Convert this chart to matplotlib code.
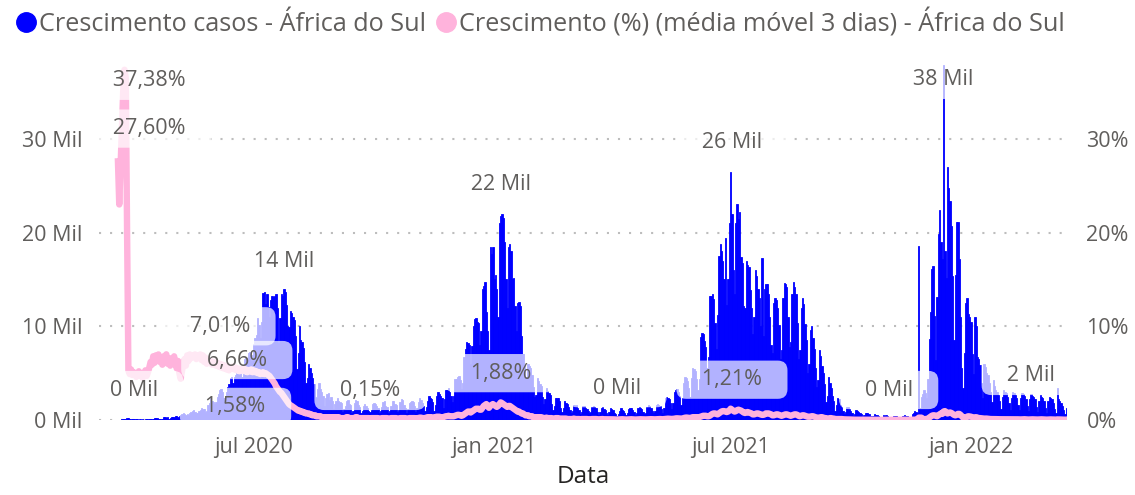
import numpy as np
import pandas as pd
import matplotlib
matplotlib.use('Agg')
import matplotlib.pyplot as plt
from matplotlib.lines import Line2D

plt.rcParams['font.family'] = ['Open Sans', 'DejaVu Sans']

# novos casos por dia (milhares), a partir de 05/03/2020 - uma linha por mes
casos_2020 = [
    0.001,0.001,0.001,0.001,0.002,0.004,0.006,0.003,0.007,0.014,0.013,0.024,0.011,0.031,0.034,0.05,0.04,0.07,0.13,0.15,0.15,0.22,0.24,0.1,0.08,0.1,0.09,
    0.14,0.09,0.08,0.05,0.08,0.05,0.09,0.04,0.1,0.07,0.09,0.14,0.1,0.14,0.09,0.17,0.18,0.25,0.11,0.12,0.14,0.16,0.32,0.27,0.17,0.27,0.15,0.22,0.35,0.35,
    0.3,0.39,0.45,0.32,0.38,0.55,0.65,0.7,0.6,0.55,0.6,0.57,0.75,0.9,0.95,1.1,0.83,0.7,0.77,1.0,1.1,1.3,1.2,1.2,0.9,1.0,1.6,1.8,2.3,2.0,1.9,
    1.7,1.9,2.5,2.8,3.2,3.3,3.0,2.3,2.4,3.0,3.5,3.8,4.5,4.6,4.0,4.6,4.8,5.0,5.2,5.4,5.0,4.6,5.2,6.5,6.6,6.2,7.2,7.3,6.3,6.9,
    8.1,8.7,9.1,10.9,10.1,8.8,10.5,13.6,13.7,12.4,13.5,12.1,11.0,12.8,13.2,13.1,13.2,13.4,12.0,8.2,10.9,13.5,13.2,14.0,13.7,12.3,10.0,9.9,11.6,11.4,11.0,
    10.7,9.0,5.4,7.1,10.0,8.5,8.3,7.7,6.2,3.9,4.5,6.0,5.6,5.0,4.5,3.8,2.5,2.3,3.3,3.9,3.3,3.0,2.6,1.5,2.3,2.8,2.9,2.1,2.5,2.0,1.2,
    1.7,2.0,2.4,2.0,1.9,1.8,0.9,1.2,1.5,2.0,2.1,1.7,1.6,0.7,1.0,1.8,2.1,2.0,1.6,1.4,0.8,1.0,1.5,1.7,1.5,1.3,1.0,0.9,1.1,1.7,
    1.8,1.7,1.5,1.3,0.8,1.0,1.4,1.9,2.0,1.5,1.4,0.7,1.0,1.5,2.0,2.0,1.7,1.6,0.9,1.1,1.9,2.2,2.1,1.6,1.3,0.8,1.2,1.8,1.9,2.0,1.9,
    1.5,0.9,1.3,1.9,2.4,2.1,1.8,1.5,1.0,1.4,2.0,2.6,2.4,2.2,1.9,1.0,1.6,2.6,3.0,2.8,2.6,2.3,1.3,2.2,3.2,3.2,3.4,3.0,2.6,1.9,
    2.6,4.4,4.4,4.6,4.7,4.3,3.3,4.0,6.7,7.6,8.3,8.2,8.0,6.0,7.9,10.0,10.8,10.9,10.5,10.4,8.0,9.5,14.0,14.3,14.7,11.5,9.5,7.5,18.5,17.7,18.5,
]
casos_2021 = [
    15.0,15.5,14.0,11.0,21.0,21.8,22.0,21.6,19.0,15.0,12.0,18.5,18.8,18.0,15.0,15.2,12.2,9.5,12.5,12.6,12.2,9.0,7.0,6.0,4.5,4.6,6.0,5.8,5.6,4.8,3.5,
    2.5,2.7,4.5,4.2,3.8,3.6,2.5,1.7,2.2,3.4,3.1,2.9,2.7,1.7,1.1,1.5,2.3,2.4,2.3,2.0,1.3,0.9,1.3,2.0,1.8,1.7,1.4,1.1,
    0.7,1.0,1.6,1.5,1.6,1.3,1.1,0.6,0.9,1.5,1.5,1.3,1.2,1.0,0.7,0.9,1.4,1.5,1.4,1.3,0.9,0.5,0.9,1.3,1.4,1.2,1.1,0.8,0.5,0.9,1.3,
    1.2,1.1,0.8,0.6,0.4,0.6,1.0,1.3,1.1,1.0,0.8,0.5,0.8,1.2,1.3,1.3,1.1,0.9,0.5,0.8,1.3,1.4,1.3,1.2,0.9,0.6,0.8,1.4,1.6,1.5,
    1.3,1.0,0.7,1.0,1.6,1.7,1.6,1.5,1.2,0.8,1.3,2.3,2.5,2.4,2.2,1.8,1.2,1.8,3.0,3.2,3.3,3.0,2.6,1.6,2.4,3.9,4.6,4.5,4.2,3.4,2.5,
    4.5,5.5,5.4,5.2,4.4,3.2,4.4,8.9,9.3,9.2,8.4,7.8,5.6,6.7,13.2,13.2,13.5,12.9,10.4,7.6,11.2,17.5,18.8,18.0,17.0,15.0,19.4,12.3,15.0,21.0,
    26.5,22.0,16.0,13.5,21.0,23.0,21.5,22.2,17.4,16.8,12.2,12.0,17.0,16.5,16.3,13.9,12.0,9.2,11.0,16.0,15.4,14.0,13.0,10.0,17.3,9.0,14.0,14.5,14.5,13.5,11.0,
    8.0,7.2,12.5,13.0,12.8,12.0,10.1,6.5,7.5,13.0,14.6,14.5,14.2,11.0,7.8,8.3,13.5,14.7,14.2,13.5,10.3,6.5,7.5,12.0,13.0,12.4,10.2,8.5,5.0,6.0,9.6,
    10.0,8.7,7.6,5.5,3.5,4.3,7.5,6.8,5.8,5.0,3.8,1.9,2.6,4.6,4.0,3.4,2.6,2.0,1.0,1.6,2.3,2.2,1.6,1.4,1.0,0.6,0.9,1.4,1.4,1.2,
    1.0,0.8,0.4,0.6,1.1,1.0,0.9,0.8,0.6,0.3,0.5,0.8,0.8,0.8,0.6,0.4,0.2,0.4,0.6,0.5,0.5,0.4,0.3,0.2,0.3,0.5,0.4,0.5,0.4,0.3,0.2,
    0.1,0.3,0.4,0.4,0.4,0.3,0.3,0.1,0.2,0.4,0.5,0.4,0.4,0.3,0.2,0.3,0.6,0.8,1.0,0.9,0.7,18.6,1.3,2.5,2.8,3.2,2.9,2.3,4.4,8.6,
    11.5,16.1,16.4,11.1,6.4,13.1,19.8,22.4,19.0,17.2,37.9,18.0,15.2,27.0,24.8,23.4,20.7,15.4,8.5,15.5,21.1,21.1,17.2,11.0,5.5,3.4,7.2,12.5,13.0,11.3,11.0,
]
casos_2022 = [
    10.5,7.0,4.9,11.0,10.0,6.7,6.5,5.9,4.0,2.4,6.0,5.7,5.0,4.8,4.0,3.0,1.9,4.3,3.6,3.2,3.0,2.7,2.0,1.2,2.5,3.2,3.0,2.9,2.5,1.8,1.1,
    2.4,3.0,2.9,2.7,2.3,1.6,1.1,2.3,2.9,2.8,2.6,2.2,1.5,1.0,2.2,2.8,2.6,2.5,2.2,1.4,0.9,2.0,2.7,2.5,2.3,2.0,1.3,0.8,
    2.0,2.5,2.3,2.2,1.8,1.2,0.7,3.4,2.2,2.0,1.8,1.5,1.1,0.6,1.3,
]

# crescimento (%) media movel 3 dias, mesmo calendario (None = sem valor)
cresc_2020 = [
    None,None,None,None,None,None,None,None,None,None,None,None,None,None,27.6,23.0,27.0,31.0,35.0,37.38,36.5,20.0,5.3,4.9,5.4,4.8,5.1,
    5.0,4.6,4.8,5.2,4.7,5.0,4.5,4.9,5.3,4.7,5.1,5.6,6.2,5.9,6.8,6.1,6.9,6.4,7.0,6.2,6.6,5.9,6.8,6.3,7.01,6.0,6.5,5.8,6.6,6.2,
    6.8,6.0,5.5,6.3,5.0,4.4,5.2,6.0,6.5,5.8,6.9,6.3,7.0,6.6,6.9,6.8,7.0,6.5,6.9,6.7,7.0,6.4,6.9,6.2,6.66,6.0,6.4,6.1,6.3,5.9,6.2,
    6.2,5.8,6.1,5.7,6.0,5.6,5.9,5.5,5.8,5.4,5.7,5.3,5.6,5.5,5.7,5.4,5.6,5.3,5.5,5.2,5.4,5.3,5.5,5.2,5.4,5.1,5.3,5.2,5.4,5.1,
    5.3,5.1,5.2,5.0,5.1,4.9,5.0,5.1,4.9,5.0,4.9,4.8,4.7,4.5,4.3,4.1,3.9,3.6,3.4,3.2,3.0,2.9,2.7,2.5,2.3,2.1,1.9,1.7,1.58,1.5,1.4,
    1.3,1.2,1.1,1.0,1.0,0.9,0.9,0.8,0.8,0.7,0.7,0.7,0.6,0.6,0.5,0.5,0.5,0.4,0.4,0.4,0.4,0.3,0.3,0.3,0.3,0.3,0.3,0.3,0.3,0.3,0.2,
    0.3,0.3,0.3,0.3,0.2,0.2,0.2,0.2,0.2,0.3,0.3,0.2,0.2,0.2,0.2,0.2,0.3,0.3,0.2,0.2,0.2,0.2,0.2,0.2,0.2,0.2,0.2,0.15,0.2,0.2,
    0.2,0.2,0.2,0.2,0.15,0.15,0.2,0.2,0.2,0.2,0.2,0.15,0.15,0.2,0.2,0.2,0.2,0.2,0.15,0.15,0.2,0.2,0.2,0.2,0.2,0.15,0.15,0.2,0.2,0.2,0.2,
    0.2,0.15,0.2,0.2,0.25,0.25,0.2,0.2,0.2,0.25,0.3,0.3,0.3,0.3,0.25,0.2,0.3,0.35,0.35,0.35,0.3,0.3,0.3,0.35,0.4,0.4,0.45,0.4,0.4,0.4,
    0.4,0.45,0.5,0.55,0.55,0.5,0.45,0.5,0.6,0.7,0.8,0.9,0.9,0.8,0.9,1.0,1.1,1.2,1.2,1.2,1.1,1.1,1.3,1.5,1.6,1.7,1.5,1.3,1.5,1.6,1.7,
]
cresc_2021 = [
    1.6,1.5,1.4,1.5,1.7,1.88,1.8,1.7,1.6,1.5,1.4,1.5,1.5,1.4,1.3,1.2,1.1,1.0,0.9,0.9,0.8,0.7,0.7,0.6,0.5,0.5,0.5,0.4,0.4,0.4,0.3,
    0.3,0.3,0.3,0.3,0.3,0.3,0.25,0.2,0.2,0.25,0.2,0.2,0.2,0.2,0.15,0.15,0.2,0.2,0.2,0.15,0.15,0.1,0.15,0.15,0.15,0.1,0.1,0.1,
    0.1,0.1,0.15,0.1,0.1,0.1,0.1,0.08,0.1,0.1,0.1,0.1,0.1,0.08,0.08,0.08,0.1,0.1,0.1,0.1,0.08,0.07,0.08,0.08,0.1,0.08,0.08,0.07,0.07,0.08,0.08,
    0.08,0.07,0.06,0.05,0.05,0.06,0.07,0.08,0.08,0.07,0.06,0.05,0.06,0.07,0.08,0.08,0.07,0.06,0.05,0.06,0.07,0.08,0.08,0.08,0.07,0.06,0.06,0.07,0.08,0.09,
    0.09,0.08,0.07,0.07,0.08,0.1,0.1,0.1,0.09,0.08,0.09,0.11,0.13,0.14,0.13,0.12,0.11,0.12,0.14,0.17,0.18,0.17,0.16,0.15,0.16,0.2,0.24,0.26,0.25,0.22,0.2,
    0.25,0.3,0.3,0.3,0.3,0.3,0.3,0.35,0.4,0.45,0.45,0.45,0.4,0.4,0.45,0.55,0.65,0.7,0.7,0.65,0.6,0.7,0.8,0.9,0.95,0.95,0.9,0.85,0.9,1.0,
    1.21,1.1,1.0,0.9,0.95,1.05,1.1,1.05,1.0,0.9,0.8,0.75,0.8,0.85,0.8,0.75,0.7,0.6,0.6,0.65,0.7,0.7,0.65,0.6,0.55,0.55,0.6,0.7,0.7,0.7,0.65,
    0.6,0.5,0.5,0.55,0.6,0.6,0.55,0.5,0.45,0.5,0.55,0.6,0.6,0.55,0.5,0.45,0.5,0.55,0.6,0.6,0.55,0.45,0.4,0.45,0.5,0.5,0.45,0.4,0.35,0.35,0.35,
    0.4,0.4,0.35,0.3,0.25,0.25,0.25,0.3,0.3,0.25,0.2,0.2,0.15,0.15,0.2,0.2,0.15,0.15,0.1,0.1,0.1,0.1,0.1,0.1,0.08,0.07,0.06,0.06,0.06,0.05,
    0.05,0.04,0.04,0.03,0.03,0.04,0.04,0.04,0.03,0.03,0.02,0.03,0.03,0.03,0.03,0.02,0.02,0.02,0.02,0.02,0.02,0.02,0.02,0.02,0.01,0.01,0.02,0.02,0.02,0.01,0.01,
    0.01,0.01,0.01,0.01,0.01,0.01,0.01,0.01,0.01,0.01,0.02,0.02,0.02,0.01,0.01,0.01,0.02,0.02,0.03,0.03,0.03,0.25,0.25,0.25,0.1,0.1,0.1,0.1,0.15,0.25,
    0.35,0.45,0.5,0.5,0.45,0.4,0.5,0.6,0.7,0.65,0.9,0.95,0.85,0.7,0.75,0.8,0.75,0.65,0.55,0.5,0.55,0.65,0.65,0.55,0.4,0.25,0.2,0.25,0.35,0.4,0.38,
]
cresc_2022 = [
    0.35,0.3,0.28,0.28,0.3,0.25,0.2,0.2,0.18,0.15,0.15,0.15,0.15,0.13,0.12,0.1,0.1,0.1,0.1,0.09,0.09,0.08,0.08,0.08,0.08,0.09,0.09,0.08,0.08,0.07,0.07,
    0.07,0.07,0.08,0.08,0.08,0.07,0.06,0.06,0.07,0.08,0.08,0.07,0.06,0.05,0.06,0.07,0.07,0.07,0.06,0.05,0.05,0.06,0.07,0.07,0.06,0.05,0.05,0.04,
    0.05,0.06,0.06,0.06,0.05,0.04,0.04,0.06,0.06,0.06,0.05,0.04,0.04,0.03,0.04,
]

datas_ticks = ['2020-07-01', '2021-01-01', '2021-07-01', '2022-01-01']
rotulos_ticks = ['jul 2020', 'jan 2021', 'jul 2021', 'jan 2022']

# rotulos de dados: (data, altura do texto, texto)
rotulos_casos = [('2020-03-31', 3.2, '0 Mil'), ('2020-07-24', 16.9, '14 Mil'),
                 ('2021-01-06', 25.1, '22 Mil'), ('2021-04-05', 3.4, '0 Mil'),
                 ('2021-07-02', 29.6, '26 Mil'), ('2021-10-30', 3.2, '0 Mil'),
                 ('2021-12-11', 36.3, '38 Mil'), ('2022-02-16', 4.7, '2 Mil')]
rotulos_cresc = [('2020-04-12', 36.2, '37,38%'), ('2020-04-12', 31.1, '27,60%'),
                 ('2020-06-05', 10.0, '7,01%'), ('2020-06-18', 6.4, '6,66%'),
                 ('2020-06-17', 1.4, '1,58%'), ('2020-09-28', 3.1, '0,15%'),
                 ('2021-01-06', 5.0, '1,88%'), ('2021-07-02', 4.3, '1,21%')]

inicio = pd.Timestamp('2020-03-05')
def dia(s):
    return (pd.Timestamp(s) - inicio).days

casos = np.array(casos_2020 + casos_2021 + casos_2022) * 1000
cresc = np.array(cresc_2020 + cresc_2021 + cresc_2022, dtype=float)

AZUL = '#0000FF'
ROSA = '#FFB3DC'
CINZA = '#605E5C'

fig = plt.figure(figsize=(11.35, 4.95), dpi=100)
ax = fig.add_axes([99/1135, 75/495, 968/1135, 360/495])
ax2 = ax.twinx()

ax.bar(np.arange(len(casos)), casos, width=1.0, color=AZUL, edgecolor=AZUL, linewidth=0.6, zorder=2)
ax2.plot(np.arange(len(cresc)), cresc, color=ROSA, lw=4.6, solid_joinstyle='round', zorder=3)

ax.set_xlim(-0.5, len(casos) - 0.5)
ax.set_ylim(0, 38420)
ax2.set_ylim(0, 38.42)
ax.set_yticks([0, 10000, 20000, 30000])
ax.set_yticklabels(['0 Mil', '10 Mil', '20 Mil', '30 Mil'])
ax2.set_yticks([0, 10, 20, 30])
ax2.set_yticklabels(['0%', '10%', '20%', '30%'])
ax.set_xticks([dia(d) for d in datas_ticks])
ax.set_xticklabels(rotulos_ticks)
ax.tick_params(axis='y', length=0, labelsize=15.5, labelcolor=CINZA, pad=12)
ax.tick_params(axis='x', length=0, labelsize=15.5, labelcolor=CINZA, pad=12)
ax2.tick_params(axis='y', length=0, labelsize=15.5, labelcolor=CINZA, pad=14)
for a in (ax, ax2):
    for s in a.spines.values():
        s.set_visible(False)
ax.grid(axis='y', color='#BDBDBD', linestyle=(0, (1, 4.3)), lw=1.5)
ax.set_axisbelow(True)
ax.set_xlabel('Data', fontsize=17.5, color='#252423', labelpad=5)

caixa = dict(boxstyle='round,pad=0.4,rounding_size=0.45', fc='white', ec='none', alpha=0.7)
for d, y, t in rotulos_casos:
    ax2.text(dia(d), y * 1000, '   ' + t + '   ', transform=ax.transData, ha='center', va='center',
             fontsize=15.5, color=CINZA, bbox=caixa, zorder=6)
for d, y, t in rotulos_cresc:
    ax2.text(dia(d), y, '   ' + t + '   ', ha='center', va='center',
             fontsize=15.5, color=CINZA, bbox=caixa, zorder=6)

alcas = [Line2D([], [], marker='o', ls='', color=AZUL, markersize=14),
         Line2D([], [], marker='o', ls='', color=ROSA, markersize=14)]
fig.legend(alcas, ['Crescimento casos - África do Sul',
                   'Crescimento (%) (média móvel 3 dias) - África do Sul'],
           loc='upper left', bbox_to_anchor=(-0.002, 1.014), ncol=2, frameon=False,
           fontsize=18.2, labelcolor=CINZA, handletextpad=0.0, columnspacing=0.25,
           handlelength=1.05, borderaxespad=0.2)

fig.savefig('out.png', dpi=100)
